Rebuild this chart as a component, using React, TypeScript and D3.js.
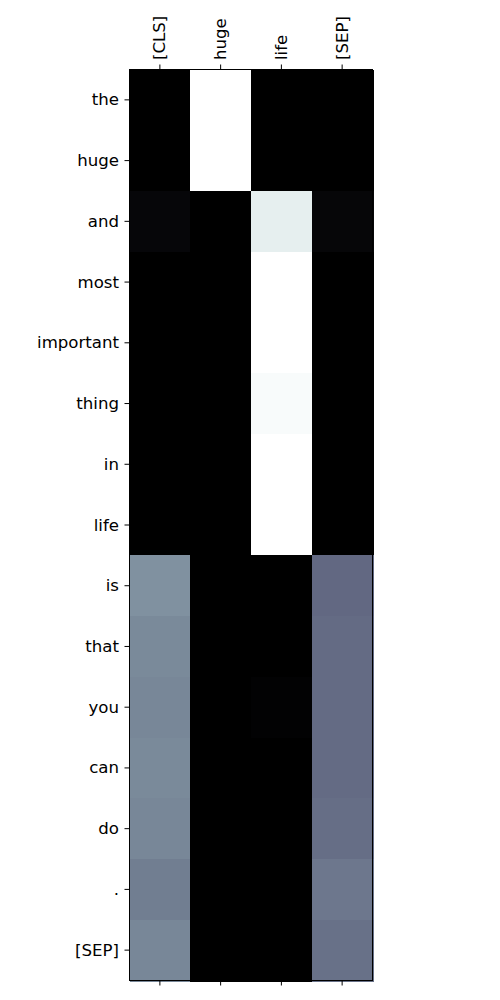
import React, { useRef, useEffect } from "react";
import * as d3 from "d3";

const colTokens = ["[CLS]", "huge", "life", "[SEP]"];
const rowTokens = ["the", "huge", "and", "most", "important", "thing", "in", "life", "is", "that", "you", "can", "do", ".", "[SEP]"];

// attention weights, one array per column
const clsCol = [0, 0, 0.028, 0, 0, 0, 0, 0, 0.574, 0.55, 0.54, 0.55, 0.54, 0.51, 0.54];
const hugeCol = [1, 1, 0, 0, 0, 0, 0, 0, 0, 0, 0, 0, 0, 0, 0];
const lifeCol = [0, 0, 0.93, 1, 1, 0.98, 1, 1, 0, 0, 0.01, 0, 0, 0, 0];
const sepCol = [0, 0, 0.025, 0, 0, 0, 0, 0, 0.44, 0.45, 0.45, 0.45, 0.46, 0.49, 0.47];

const columns = [clsCol, hugeCol, lifeCol, sepCol];

const App = () => {
  const svgRef = useRef(null);
  const width = 500;
  const height = 1000;
  const left = 129.5;
  const top = 69.5;
  const plotW = 243;
  const plotH = 911;
  const font = "DejaVu Sans, sans-serif";
  const fontSize = "16.6px";

  useEffect(() => {
    const svg = d3.select(svgRef.current);
    svg.selectAll("*").remove();

    const x = d3.scaleBand().domain(colTokens).range([left, left + plotW]).padding(0);
    const y = d3.scaleBand().domain(rowTokens.map((d, i) => i + "")).range([top, top + plotH]).padding(0);

    const cells = [];
    columns.forEach((col, ci) => {
      col.forEach((v, ri) => cells.push({ c: colTokens[ci], r: ri + "", v }));
    });
    const ext = d3.extent(cells, (d) => d.v);

    // matplotlib "bone" colormap
    const bone = d3.scaleLinear()
      .domain([0, 0.365079, 0.746032, 1])
      .range(["rgb(0,0,0)", "rgb(81,81,113)", "rgb(166,198,198)", "rgb(255,255,255)"])
      .interpolate(d3.interpolateRgb);
    const norm = d3.scaleLinear().domain(ext).range([0, 1]);

    const g = svg.append("g").attr("shape-rendering", "crispEdges");
    g.selectAll("rect")
      .data(cells)
      .enter()
      .append("rect")
      .attr("x", (d) => Math.round(x(d.c)))
      .attr("y", (d) => Math.round(y(d.r)))
      .attr("width", (d) => Math.round(x(d.c) + x.bandwidth()) - Math.round(x(d.c)) + 1)
      .attr("height", (d) => Math.round(y(d.r) + y.bandwidth()) - Math.round(y(d.r)) + 1)
      .attr("fill", (d) => bone(norm(d.v)));

    // frame
    svg.append("rect")
      .attr("x", left)
      .attr("y", top)
      .attr("width", plotW)
      .attr("height", plotH)
      .attr("fill", "none")
      .attr("stroke", "black")
      .attr("stroke-width", 1);

    const tickLen = 5;
    const axes = svg.append("g").attr("stroke", "black").attr("stroke-width", 1);
    colTokens.forEach((c) => {
      const cx = x(c) + x.bandwidth() / 2;
      axes.append("line").attr("x1", cx).attr("x2", cx).attr("y1", top).attr("y2", top - tickLen);
      axes.append("line").attr("x1", cx).attr("x2", cx).attr("y1", top + plotH).attr("y2", top + plotH + tickLen);
      svg.append("text")
        .attr("transform", `translate(${cx + 5.5},${top - tickLen - 4.5}) rotate(-90)`)
        .attr("font-family", font)
        .attr("font-size", fontSize)
        .attr("text-anchor", "start")
        .attr("fill", "black")
        .text(c);
    });
    rowTokens.forEach((r, i) => {
      const cy = y(i + "") + y.bandwidth() / 2;
      axes.append("line").attr("x1", left).attr("x2", left - tickLen).attr("y1", cy).attr("y2", cy);
      svg.append("text")
        .attr("x", left - tickLen - 5.5)
        .attr("y", cy + 5.5)
        .attr("font-family", font)
        .attr("font-size", fontSize)
        .attr("text-anchor", "end")
        .attr("fill", "black")
        .text(r);
    });
  }, []);

  return (
    <div style={{ position: "absolute", left: 0, top: 0 }}>
      <svg ref={svgRef} width={width} height={height} style={{ display: "block", background: "white" }} />
    </div>
  );
};

export default App;
